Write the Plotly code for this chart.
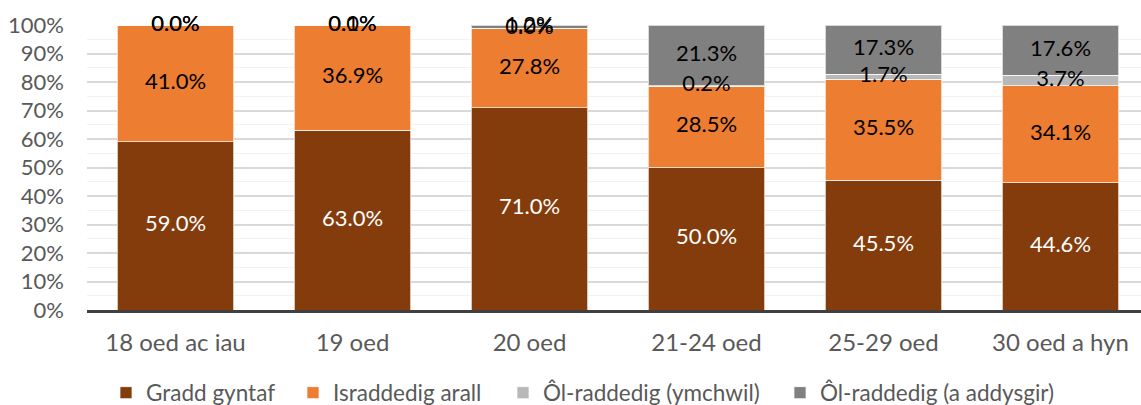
import plotly.graph_objects as go

categories = ["18 oed ac iau", "19 oed", "20 oed", "21-24 oed", "25-29 oed", "30 oed a hyn"]
gradd_gyntaf = [59.0, 63.0, 71.0, 50.0, 45.5, 44.6]
israddedig_arall = [41.0, 36.9, 27.8, 28.5, 35.5, 34.1]
ol_ymchwil = [0.0, 0.0, 0.0, 0.2, 1.7, 3.7]
ol_addysgir = [0.0, 0.1, 1.2, 21.3, 17.3, 17.6]
y_ticks = list(range(0, 101, 10))
y_tick_labels = [f"{v}%" for v in y_ticks]

series = [
    ("Gradd gyntaf", gradd_gyntaf, "#843C0C", "white"),
    ("Israddedig arall", israddedig_arall, "#ED7D31", "black"),
    ("Ôl-raddedig (ymchwil)", ol_ymchwil, "#B8B8B8", "black"),
    ("Ôl-raddedig (a addysgir)", ol_addysgir, "#808080", "black"),
]
# text start of each legend entry in the reference (px from left)
legend_text_x = [146, 333, 543, 820]

FONT = "Lato"
TXT = "#595959"
W, H = 1141, 405
fig = go.Figure()
base = [0.0] * len(categories)
label_traces = []
legend_layouts = {}
for i, (name, vals, color, tcol) in enumerate(series):
    lg = "legend" if i == 0 else f"legend{i + 1}"
    fig.add_trace(go.Bar(
        x=categories, y=vals, name=name, legend=lg,
        marker=dict(color=color, line=dict(color="rgba(255,255,255,0.7)", width=1)),
        hoverinfo="skip",
    ))
    legend_layouts[lg] = dict(
        orientation="h", xref="container", yref="container",
        x=(legend_text_x[i] - 40) / W, xanchor="left",
        y=1 - 393 / H, yanchor="middle",
        font=dict(family=FONT, size=22.5, color=TXT),
        bgcolor="rgba(0,0,0,0)",
    )
    mids = [b + v / 2 for b, v in zip(base, vals)]
    label_traces.append(go.Scatter(
        x=categories, y=mids, mode="text",
        text=[f"{v:.1f}%" for v in vals],
        textfont=dict(family=FONT, size=22, color=tcol),
        showlegend=False, hoverinfo="skip", cliponaxis=False,
    ))
    base = [b + v for b, v in zip(base, vals)]

for t in label_traces:
    fig.add_trace(t)

fig.update_layout(
    width=W, height=H,
    autosize=False,
    barmode="stack",
    bargap=0.34,
    plot_bgcolor="white",
    paper_bgcolor="white",
    margin=dict(l=87, r=0, t=25, b=95, pad=0, autoexpand=False),
    font=dict(family=FONT, size=22, color=TXT),
    xaxis=dict(
        type="category",
        range=[-0.5, 5.455],
        showline=True, linecolor="#404040", linewidth=3,
        ticks="", showgrid=False,
        ticklabelstandoff=9,
        automargin=False,
        tickfont=dict(family=FONT, size=24, color=TXT),
    ),
    yaxis=dict(
        range=[0, 100],
        tickvals=y_ticks,
        ticktext=y_tick_labels,
        showgrid=True, gridcolor="#D9D9D9", gridwidth=1.5,
        zeroline=False,
        ticks="",
        ticklabelstandoff=22,
        automargin=False,
        tickfont=dict(family=FONT, size=22, color=TXT),
        minor=dict(dtick=5, showgrid=True, gridcolor="#F2F2F2", gridwidth=1),
    ),
    **legend_layouts,
)

fig.write_html("out.html", config={"displayModeBar": False},
               post_script="document.body.style.margin='0';")
